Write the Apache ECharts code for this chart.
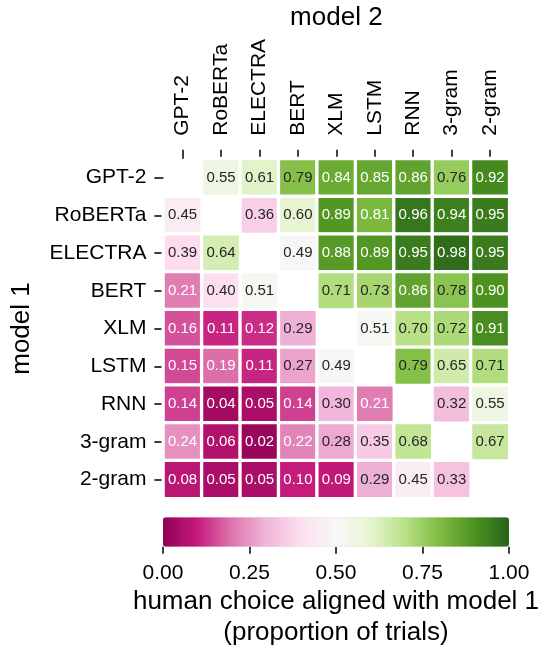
<!DOCTYPE html>
<html>
<head>
<meta charset="utf-8">
<script src="https://cdn.jsdelivr.net/npm/echarts@6/dist/echarts.min.js"></script>
<style>
  html, body { margin: 0; padding: 0; background: #fff; }
  #chart { width: 543px; height: 653px; }
</style>
</head>
<body>
<div id="chart"></div>
<script>
// ---- data ----
const model2Labels = ['GPT-2', 'RoBERTa', 'ELECTRA', 'BERT', 'XLM', 'LSTM', 'RNN', '3-gram', '2-gram'];
const model1Labels = ['GPT-2', 'RoBERTa', 'ELECTRA', 'BERT', 'XLM', 'LSTM', 'RNN', '3-gram', '2-gram'];

// rows = model 1, columns = model 2 (null = diagonal, no comparison)
const rowGPT2    = [null, 0.55, 0.61, 0.79, 0.84, 0.85, 0.86, 0.76, 0.92];
const rowRoBERTa = [0.45, null, 0.36, 0.60, 0.89, 0.81, 0.96, 0.94, 0.95];
const rowELECTRA = [0.39, 0.64, null, 0.49, 0.88, 0.89, 0.95, 0.98, 0.95];
const rowBERT    = [0.21, 0.40, 0.51, null, 0.71, 0.73, 0.86, 0.78, 0.90];
const rowXLM     = [0.16, 0.11, 0.12, 0.29, null, 0.51, 0.70, 0.72, 0.91];
const rowLSTM    = [0.15, 0.19, 0.11, 0.27, 0.49, null, 0.79, 0.65, 0.71];
const rowRNN     = [0.14, 0.04, 0.05, 0.14, 0.30, 0.21, null, 0.32, 0.55];
const row3gram   = [0.24, 0.06, 0.02, 0.22, 0.28, 0.35, 0.68, null, 0.67];
const row2gram   = [0.08, 0.05, 0.05, 0.10, 0.09, 0.29, 0.45, 0.33, null];
const matrixRows = [rowGPT2, rowRoBERTa, rowELECTRA, rowBERT, rowXLM, rowLSTM, rowRNN, row3gram, row2gram];

const colorbarTicks = [0, 0.25, 0.5, 0.75, 1];

// ---- styling ----
const FONT = 'Liberation Sans, Arial, Helvetica, sans-serif';
const PiYG = ['#8e0152', '#c51b7d', '#de77ae', '#f1b6da', '#fde0ef', '#f7f7f7',
              '#e6f5d0', '#b8e186', '#7fbc41', '#4d9221', '#276419'];

const heatData = [];
matrixRows.forEach((row, r) => {
  row.forEach((v, c) => {
    if (v === null) return;
    const light = (v < 0.25 || v > 0.8);
    heatData.push({ value: [c, r, v], label: { color: light ? '#ffffff' : '#262626' } });
  });
});

const chart = echarts.init(document.getElementById('chart'), null, { renderer: 'canvas' });
chart.setOption({
  animation: false,
  backgroundColor: '#ffffff',
  textStyle: { fontFamily: FONT },
  grid: [
    { left: 163.4, top: 152.4, width: 345.9, height: 345.9, containLabel: false },
    { left: 163, top: 517.3, width: 346, height: 29.4, containLabel: false }
  ],
  xAxis: [
    {
      gridIndex: 0, type: 'category', data: model2Labels, position: 'top',
      axisLine: { show: false },
      axisTick: { show: true, alignWithLabel: true, length: 9, lineStyle: { color: '#000', width: 1.5 } },
      axisLabel: { rotate: -90, fontSize: 21, color: '#000', margin: 23, fontFamily: FONT, interval: 0 },
      splitLine: { show: false },
      name: 'model 2', nameLocation: 'middle', nameGap: 121,
      nameTextStyle: { fontSize: 26, color: '#000', fontFamily: FONT }
    },
    {
      gridIndex: 1, type: 'value', min: 0, max: 1, interval: 0.25, position: 'bottom',
      axisLine: { show: false },
      axisTick: { show: true, length: 7, lineStyle: { color: '#000', width: 1.5 } },
      axisLabel: { fontSize: 21, color: '#000', margin: 16, fontFamily: FONT,
                   formatter: v => colorbarTicks.includes(v) ? v.toFixed(2) : '' },
      splitLine: { show: false },
      name: 'human choice aligned with model 1\n(proportion of trials)',
      nameLocation: 'middle', nameGap: 40,
      nameTextStyle: { fontSize: 26, color: '#000', fontFamily: FONT, lineHeight: 31, align: 'center' }
    }
  ],
  yAxis: [
    {
      gridIndex: 0, type: 'category', data: model1Labels, inverse: true,
      axisLine: { show: false },
      axisTick: { show: true, alignWithLabel: true, length: 9, lineStyle: { color: '#000', width: 1.5 } },
      axisLabel: { fontSize: 21, color: '#000', margin: 17, fontFamily: FONT, interval: 0 },
      splitLine: { show: false },
      name: 'model 1', nameLocation: 'middle', nameGap: 129, nameRotate: 90,
      nameTextStyle: { fontSize: 26, color: '#000', fontFamily: FONT }
    },
    { gridIndex: 1, type: 'value', show: false, min: 0, max: 1 }
  ],
  visualMap: {
    type: 'continuous', seriesIndex: 0, min: 0, max: 1,
    orient: 'horizontal', left: 163, top: 517.3, padding: 0,
    itemWidth: 29.4, itemHeight: 346,
    calculable: false, hoverLink: false, text: null, showLabel: false,
    inRange: { color: PiYG }
  },
  series: [
    {
      type: 'heatmap', xAxisIndex: 0, yAxisIndex: 0, data: heatData,
      itemStyle: { borderColor: '#ffffff', borderWidth: 3.3 },
      label: { show: true, fontSize: 15, fontFamily: FONT, formatter: p => p.value[2].toFixed(2) },
      emphasis: { disabled: true }
    },
    { type: 'scatter', xAxisIndex: 1, yAxisIndex: 1, data: [], silent: true }
  ]
});
</script>
</body>
</html>
